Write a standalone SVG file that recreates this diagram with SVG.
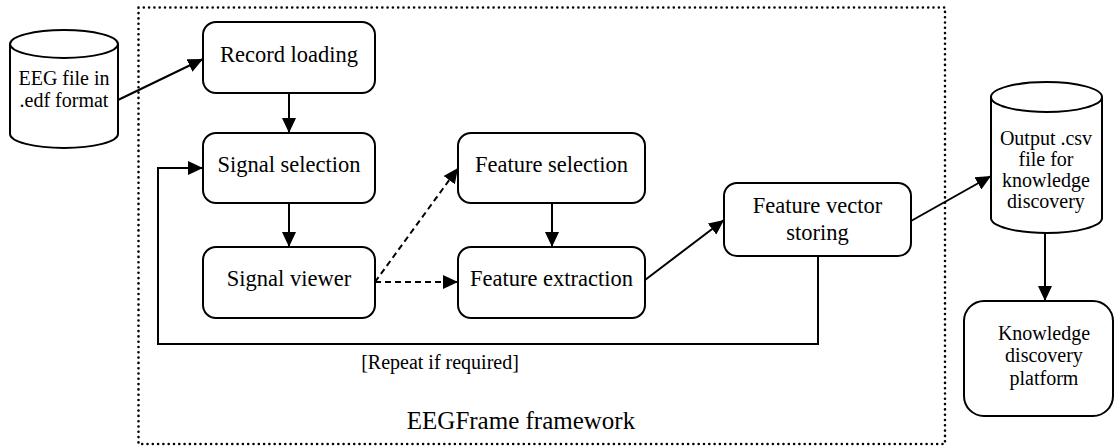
<svg xmlns="http://www.w3.org/2000/svg" width="1115" height="447" viewBox="0 0 1115 447">
<style>
.box{fill:#fff;stroke:#000;stroke-width:2}
.t{font-family:"Liberation Serif","Times New Roman",serif;font-size:22.5px;fill:#000;text-anchor:middle}
.ts{font-family:"Liberation Serif","Times New Roman",serif;font-size:20px;fill:#000;text-anchor:middle}
.c{fill:none;stroke:#000;stroke-width:2}
.d{fill:none;stroke:#000;stroke-width:2;stroke-dasharray:6 4}
</style>
<defs>
<marker id="ah" markerUnits="userSpaceOnUse" markerWidth="16" markerHeight="14" refX="15" refY="7" orient="auto">
<path d="M0,0 L15,7 L0,14 z" fill="#000"/>
</marker>
</defs>
<rect id="frame" x="138.5" y="7.5" width="806.5" height="436.5" fill="none" stroke="#000" stroke-width="2.6" stroke-linecap="round" stroke-dasharray="0 5.3"/>
<g id="eeg-file">
<path class="box" d="M10,44 L10,134 A54,14 0 0 0 118,134 L118,44"/>
<ellipse class="box" cx="64" cy="44" rx="54" ry="14"/>
<text class="ts" x="64" y="85">EEG file in</text>
<text class="ts" x="64" y="107">.edf format</text>
</g>
<g id="record-loading">
<rect class="box" x="203" y="22" width="172" height="71" rx="13"/>
<text class="t" x="289" y="62">Record loading</text>
</g>
<g id="signal-selection">
<rect class="box" x="203" y="133" width="172" height="70" rx="13"/>
<text class="t" x="289" y="172">Signal selection</text>
</g>
<g id="signal-viewer">
<rect class="box" x="203" y="247" width="172" height="71" rx="13"/>
<text class="t" x="289" y="286">Signal viewer</text>
</g>
<g id="feature-selection">
<rect class="box" x="458" y="133" width="187" height="70" rx="13"/>
<text class="t" x="551.5" y="172">Feature selection</text>
</g>
<g id="feature-extraction">
<rect class="box" x="458" y="247" width="187" height="71" rx="13"/>
<text class="t" x="551.5" y="286">Feature extraction</text>
</g>
<g id="feature-vector-storing">
<rect class="box" x="724" y="183" width="187" height="73" rx="13"/>
<text class="t" x="817.5" y="213">Feature vector</text>
<text class="t" x="817.5" y="240">storing</text>
</g>
<g id="output-csv">
<path class="box" d="M991,97 L991,218 A55.5,15 0 0 0 1102,218 L1102,97"/>
<ellipse class="box" cx="1046.5" cy="97" rx="55.5" ry="15"/>
<text class="ts" x="1046" y="145">Output .csv</text>
<text class="ts" x="1046" y="166">file for</text>
<text class="ts" x="1046" y="187">knowledge</text>
<text class="ts" x="1046" y="208">discovery</text>
</g>
<g id="knowledge-platform">
<rect class="box" x="964" y="301" width="149" height="115" rx="20"/>
<text class="ts" x="1044" y="340">Knowledge</text>
<text class="ts" x="1044" y="362">discovery</text>
<text class="ts" x="1044" y="385">platform</text>
</g>
<g id="connectors">
<line class="c" x1="118" y1="100" x2="203" y2="59" marker-end="url(#ah)"/>
<line class="c" x1="289" y1="93" x2="289" y2="133" marker-end="url(#ah)"/>
<line class="c" x1="289" y1="203" x2="289" y2="247" marker-end="url(#ah)"/>
<line class="d" x1="375" y1="282" x2="458" y2="168" marker-end="url(#ah)"/>
<line class="d" x1="375" y1="282" x2="458" y2="282" marker-end="url(#ah)"/>
<line class="c" x1="552" y1="203" x2="552" y2="247" marker-end="url(#ah)"/>
<line class="c" x1="645" y1="280" x2="724" y2="220" marker-end="url(#ah)"/>
<line class="c" x1="911" y1="221" x2="991" y2="176" marker-end="url(#ah)"/>
<line class="c" x1="1045" y1="233" x2="1045" y2="301" marker-end="url(#ah)"/>
<polyline class="c" points="818,256 818,344 158,344 158,168 203,168" marker-end="url(#ah)"/>
<text class="ts" x="440" y="369">[Repeat if required]</text>
</g>
<text x="521" y="429" font-family="Liberation Serif, Times New Roman, serif" font-size="25" text-anchor="middle">EEGFrame framework</text>
</svg>
